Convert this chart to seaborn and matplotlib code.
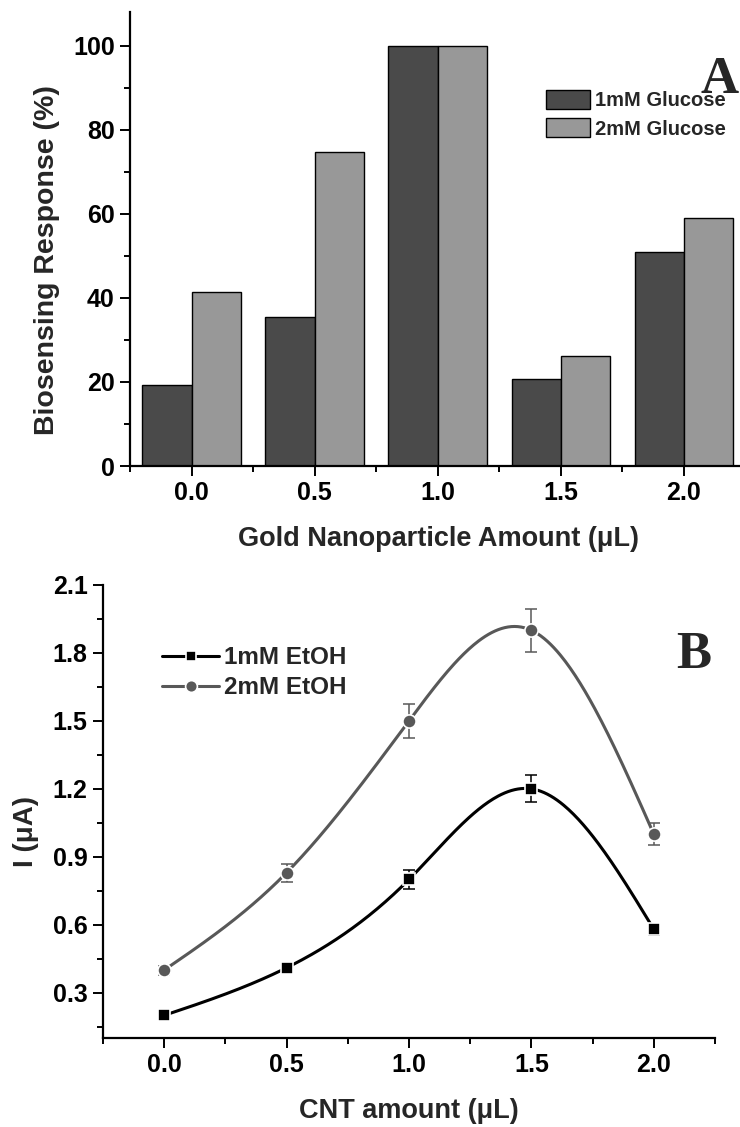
import numpy as np
import pandas as pd
import matplotlib
matplotlib.use("Agg")
import matplotlib.pyplot as plt
from matplotlib import font_manager
from matplotlib.lines import Line2D
from matplotlib.patches import Patch
from matplotlib.ticker import FixedLocator
import seaborn as sns

# ---------------- data ----------------
gold_amounts = ["0.0", "0.5", "1.0", "1.5", "2.0"]
glucose_1mM = [19.3, 35.4, 100.0, 20.6, 50.9]
glucose_2mM = [41.5, 74.8, 100.0, 26.1, 58.9]

cnt_amounts = [0.0, 0.5, 1.0, 1.5, 2.0]
etoh_1mM = [0.20, 0.41, 0.80, 1.20, 0.58]
etoh_1mM_err = [0.01, 0.01, 0.04, 0.06, 0.025]
etoh_2mM = [0.40, 0.83, 1.50, 1.90, 1.00]
etoh_2mM_err = [0.02, 0.04, 0.075, 0.095, 0.05]

# ---------------- style ----------------
sns.set_theme(style="ticks")
names = {f.name for f in font_manager.fontManager.ttflist}
narrow = "Liberation Sans Narrow" if "Liberation Sans Narrow" in names else "Liberation Sans"
plt.rcParams["font.family"] = [narrow, "DejaVu Sans"]
plt.rcParams["font.weight"] = "bold"

DARK = "#4a4a4a"
LIGHT = "#989898"
GRAY = "#585858"

fig = plt.figure(figsize=(7.4, 11.27), dpi=100)
W, H = 740, 1127

def ax_rect(l, t, r, b):
    return [l / W, 1 - b / H, (r - l) / W, (b - t) / H]

ax1 = fig.add_axes(ax_rect(130, 12, 740, 466))
ax2 = fig.add_axes(ax_rect(103, 585, 715, 1038))

def style_axes(ax):
    for s in ["top", "right"]:
        ax.spines[s].set_visible(False)
    for s in ["left", "bottom"]:
        ax.spines[s].set_linewidth(1.6)
        ax.spines[s].set_color("black")
    ax.tick_params(which="major", direction="out", length=7, width=1.4,
                   labelsize=18, pad=4, colors="black")
    ax.tick_params(which="minor", direction="out", length=4.5, width=1.4, colors="black")
    for lab in ax.get_xticklabels() + ax.get_yticklabels():
        lab.set_fontweight("bold")

# ---------------- panel A ----------------
df = pd.DataFrame({
    "amount": gold_amounts * 2,
    "response": glucose_1mM + glucose_2mM,
    "conc": ["1mM Glucose"] * 5 + ["2mM Glucose"] * 5,
})
sns.barplot(data=df, x="amount", y="response", hue="conc",
            palette=[DARK, LIGHT], saturation=1, width=0.8,
            edgecolor="black", linewidth=1.0, ax=ax1, legend=False)
ax1.set_xlim(-0.5, 4.456)
ax1.set_ylim(0, 108)
ax1.yaxis.set_major_locator(FixedLocator([0, 20, 40, 60, 80, 100]))
ax1.yaxis.set_minor_locator(FixedLocator([10, 30, 50, 70, 90]))
ax1.xaxis.set_minor_locator(FixedLocator([-0.5, 0.5, 1.5, 2.5, 3.5]))
style_axes(ax1)
ax1.set_ylabel("Biosensing Response (%)", fontsize=20.5, fontweight="bold",
               family=["Liberation Sans", "DejaVu Sans"])
ax1.yaxis.set_label_coords(-0.136, 0.454)
ax1.set_xlabel("Gold Nanoparticle Amount (\u03bcL)", fontsize=19.5, fontweight="bold")
ax1.xaxis.set_label_coords(0.505, -0.16)
ax1.xaxis.label.set_va("center")
ax1.yaxis.label.set_va("center")

ax1.legend(handles=[Patch(facecolor=DARK, edgecolor="black", linewidth=1.0, label="1mM Glucose"),
                    Patch(facecolor=LIGHT, edgecolor="black", linewidth=1.0, label="2mM Glucose")],
           loc="upper left", bbox_to_anchor=(536 / W, 1 - 80 / H), bbox_transform=fig.transFigure,
           frameon=False, handlelength=2.2, handleheight=1.05, handletextpad=0.25,
           labelspacing=0.4, borderpad=0,
           prop={"family": ["Liberation Sans", "DejaVu Sans"], "weight": "bold", "size": 14.5})
fig.text(720 / W, 1 - 80 / H, "A", fontsize=38, fontweight="bold",
         family=["Liberation Serif", "DejaVu Serif"], ha="center", va="center")

# ---------------- panel B ----------------
def natural_spline(x, y, n=300):
    x = np.asarray(x, float); y = np.asarray(y, float)
    k = len(x); h = np.diff(x)
    A = np.zeros((k, k)); rhs = np.zeros(k)
    A[0, 0] = A[-1, -1] = 1
    for i in range(1, k - 1):
        A[i, i - 1] = h[i - 1]; A[i, i] = 2 * (h[i - 1] + h[i]); A[i, i + 1] = h[i]
        rhs[i] = 6 * ((y[i + 1] - y[i]) / h[i] - (y[i] - y[i - 1]) / h[i - 1])
    M = np.linalg.solve(A, rhs)
    xs = np.linspace(x[0], x[-1], n)
    idx = np.clip(np.searchsorted(x, xs) - 1, 0, k - 2)
    x0, x1 = x[idx], x[idx + 1]; hh = x1 - x0
    ys = (M[idx] * (x1 - xs) ** 3 + M[idx + 1] * (xs - x0) ** 3) / (6 * hh) \
        + (y[idx] / hh - M[idx] * hh / 6) * (x1 - xs) + (y[idx + 1] / hh - M[idx + 1] * hh / 6) * (xs - x0)
    return xs, ys

for yv, err, col, mk, ms in [(etoh_2mM, etoh_2mM_err, GRAY, "o", 9.5),
                             (etoh_1mM, etoh_1mM_err, "black", "s", 8.5)]:
    xs, ys = natural_spline(cnt_amounts, yv)
    sns.lineplot(x=xs, y=ys, color=col, linewidth=2.2, ax=ax2, sort=False)
    ax2.errorbar(cnt_amounts, yv, yerr=err, fmt="none", ecolor=col, elinewidth=1.1,
                 capsize=4, capthick=1.1, zorder=3)
    ax2.plot(cnt_amounts, yv, linestyle="none", marker=mk, markersize=ms, color=col,
             markeredgecolor="white", markeredgewidth=1.2, zorder=4)

ax2.set_xlim(-0.25, 2.25)
ax2.set_ylim(0.1, 2.1)
ax2.xaxis.set_major_locator(FixedLocator([0.0, 0.5, 1.0, 1.5, 2.0]))
ax2.xaxis.set_minor_locator(FixedLocator([-0.25, 0.25, 0.75, 1.25, 1.75, 2.25]))
ax2.yaxis.set_major_locator(FixedLocator([0.3, 0.6, 0.9, 1.2, 1.5, 1.8, 2.1]))
ax2.yaxis.set_minor_locator(FixedLocator([0.15, 0.45, 0.75, 1.05, 1.35, 1.65, 1.95]))
ax2.set_xticklabels(["0.0", "0.5", "1.0", "1.5", "2.0"])
ax2.set_yticklabels(["0.3", "0.6", "0.9", "1.2", "1.5", "1.8", "2.1"])
style_axes(ax2)
ax2.set_ylabel("I (\u03bcA)", fontsize=20, fontweight="bold")
ax2.yaxis.set_label_coords(-0.126, 0.455)
ax2.set_xlabel("CNT amount (\u03bcL)", fontsize=19.5, fontweight="bold")
ax2.xaxis.set_label_coords(0.5, -0.161)
ax2.xaxis.label.set_va("center")
ax2.yaxis.label.set_va("center")

h1 = Line2D([], [], color="black", linewidth=2.2, marker="s", markersize=7.5,
            markeredgecolor="white", markeredgewidth=1.2, label="1mM EtOH")
h2 = Line2D([], [], color=GRAY, linewidth=2.2, marker="o", markersize=8.5,
            markeredgecolor="white", markeredgewidth=1.2, label="2mM EtOH")
ax2.legend(handles=[h1, h2], loc="upper left", bbox_to_anchor=(150 / W, 1 - 634 / H),
           bbox_transform=fig.transFigure, frameon=False, handlelength=2.35,
           handletextpad=0.2, labelspacing=0.3, borderpad=0,
           prop={"family": [narrow, "DejaVu Sans"], "weight": "bold", "size": 17.5})
fig.text(694 / W, 1 - 655 / H, "B", fontsize=38, fontweight="bold",
         family=["Liberation Serif", "DejaVu Serif"], ha="center", va="center")

fig.savefig("out.png", dpi=100)
